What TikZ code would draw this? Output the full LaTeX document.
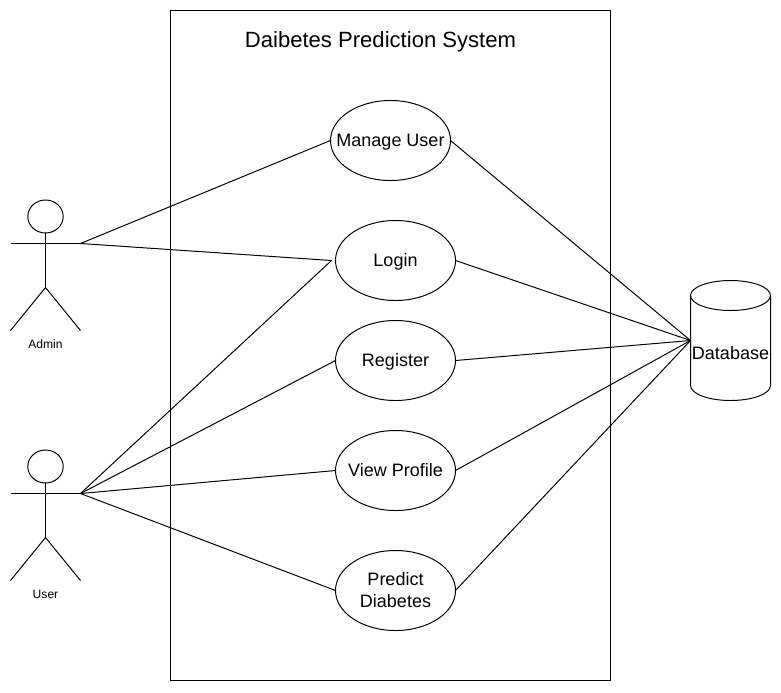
\documentclass[tikz,border=0pt]{standalone}
\usepackage{fontspec}
\setmainfont{Liberation Sans}
\usetikzlibrary{positioning, shapes.geometric}
\tikzset{
    usecase/.style={draw, ellipse, minimum width=3cm, minimum height=2cm, inner sep=-1cm, outer sep=0pt, align=center, font=\fontsize{12.8pt}{15.6pt}\selectfont},
    oneline/.style={usecase, text height=9.2pt, text depth=0pt},
    actorname/.style={font=\fontsize{8.6pt}{10pt}\selectfont},
    link/.style={draw, line width=0.7pt}
}
\begin{document}
\begin{tikzpicture}[x=0.025cm, y=-0.025cm, line width=0.7pt]
    \useasboundingbox (0,0) rectangle (781,692);

    % system box
    \node[draw, minimum width=11cm, minimum height=16.75cm, inner sep=0pt, outer sep=0pt] (system) at (390.5,345.5) {};
    \node[font=\fontsize{15.7pt}{18pt}\selectfont] (title) at (380.5,42) {Daibetes Prediction System};

    % use cases
    \node[oneline] (manage) at (390.5,140.5) {Manage User};
    \node[oneline] (login) at (395.5,260.5) {Login};
    \node[oneline] (register) at (395.5,360.5) {Register};
    \node[oneline] (profile) at (395.5,470.5) {View Profile};
    \node[usecase] (predict) at (395.5,590.5) {Predict\\Diabetes};

    % actors
    \foreach \y/\who/\name in {0/admin/Admin, 250/user/User} {
        \draw (45.5,216.5+\y) ellipse [x radius=17.7, y radius=16.5];
        \draw (45.5,233+\y) -- (45.5,287.5+\y);
        \draw (10.5,243.5+\y) -- (80.5,243.5+\y);
        \draw (10.5,330.5+\y) -- (45.5,287.5+\y) -- (80.5,330.5+\y);
        \coordinate (\who) at (80.5,243.5+\y);
        \node[actorname] (\who name) at (45.5,344+\y) {\name};
    }

    % database
    \draw (690.5,295.5) arc[start angle=180, end angle=540, x radius=40, y radius=15];
    \draw (690.5,295.5) -- (690.5,385.5) arc[start angle=180, end angle=0, x radius=40, y radius=15] -- (770.5,295.5);
    \node[font=\fontsize{12.8pt}{15pt}\selectfont] (dbname) at (730.5,353.5) {Database};
    \coordinate (db) at (690.5,340.5);
    \coordinate (loginport) at (331.5,260.5);

    % connectors
    \draw[link] (admin) -- (manage.west);
    \draw[link] (admin) -- (loginport);
    \draw[link] (user) -- (loginport);
    \draw[link] (user) -- (register.west);
    \draw[link] (user) -- (profile.west);
    \draw[link] (user) -- (predict.west);
    \foreach \uc in {manage, login, register, profile, predict} {
        \draw[link] (\uc.east) -- (db);
    }
\end{tikzpicture}
\end{document}
